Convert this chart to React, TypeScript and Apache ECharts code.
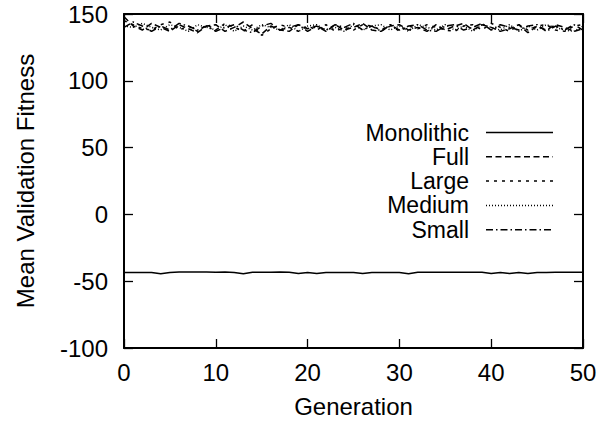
import React, { useEffect, useRef } from "react";
import * as echarts from "echarts";

const generations: number[] = Array.from({ length: 51 }, (_, i) => i);

const monolithic = [-43.5,-43.5,-43.5,-43.5,-44.5,-43.5,-43.2,-43.2,-43.2,-43.2,-43.3,-43.2,-43.5,-44.5,-43.3,-43.3,-43.3,-43.2,-43.3,-44.3,-43.5,-44.3,-43.5,-43.5,-43.5,-43.5,-44.2,-43.5,-43.5,-43.5,-43.5,-44.4,-43.3,-43.3,-43.3,-43.3,-43.3,-43.3,-43.3,-43.3,-44.3,-43.5,-44.3,-43.5,-44.3,-43.5,-43.5,-43.3,-43.3,-43.3,-43.3];
const full = [148,141,138,143,140,137,142,139,136,141,142,137,140,144,139,135,141,138,137,142,139,141,137,142,138,140,143,138,137,141,142,138,140,137,142,138,141,143,138,142,140,137,139,142,136,141,138,142,140,137,139];
const large = [145,142,139,138,142,144,138,141,137,142,138,143,140,137,142,134,139,142,140,137,141,138,142,137,140,138,142,141,138,142,137,141,139,142,140,138,137,141,142,138,143,140,137,142,138,141,142,138,137,141,142];
const medium = [141,140,143,140,138,142,140,137,142,140,138,142,137,141,138,142,140,138,142,137,141,142,138,140,137,142,138,141,142,138,141,137,142,140,138,142,138,141,137,142,140,138,142,137,141,138,142,140,138,137,141];
const small = [140,144,141,137,141,138,143,141,138,141,137,140,142,138,136,141,143,138,140,142,137,141,138,142,140,143,138,141,137,142,138,141,142,138,137,141,142,138,140,143,138,142,140,138,141,142,137,141,138,142,138];

const seriesNames = ["Monolithic", "Full", "Large", "Medium", "Small"];
const seriesValues = [monolithic, full, large, medium, small];
const dashes: (number[] | null)[] = [null, [6, 3.5], [3, 5], [1, 2], [7, 3, 1.5, 3]];

const FONT = "Liberation Sans, Arial, Helvetica, sans-serif";
const FS = 24;
const LFS = 23;

export default function App() {
  const ref = useRef<HTMLDivElement>(null);
  useEffect(() => {
    if (!ref.current) return;
    const chart = echarts.init(ref.current, undefined, { renderer: "svg" });
    const axisLine = { show: true, onZero: false, lineStyle: { color: "#000", width: 2 } };
    const tick = { show: true, inside: true, length: 9, lineStyle: { color: "#000", width: 1.3 } };
    const label = { color: "#000", fontSize: FS, fontFamily: FONT };
    const legendGraphics: any[] = [];
    const rowY = [132.5, 156.8, 181.1, 205.4, 229.7];
    seriesNames.forEach((n, i) => {
      legendGraphics.push({
        type: "text",
        x: 469,
        y: rowY[i],
        style: { text: n, fill: "#000", fontSize: LFS, fontFamily: FONT, textAlign: "right", textVerticalAlign: "middle" },
      });
      legendGraphics.push({
        type: "line",
        shape: { x1: 486, y1: rowY[i], x2: 553, y2: rowY[i] },
        style: { stroke: "#000", lineWidth: 1.5, lineDash: dashes[i] || undefined },
      });
    });
    chart.setOption({
      animation: false,
      backgroundColor: "#fff",
      grid: { left: 124, right: 30, top: 14, bottom: 75, show: false },
      xAxis: [
        {
          type: "value", min: 0, max: 50, interval: 10, position: "bottom",
          name: "Generation", nameLocation: "middle", nameGap: 46,
          nameTextStyle: { color: "#000", fontSize: FS, fontFamily: FONT },
          axisLine, axisTick: tick, axisLabel: { ...label, margin: 12 }, splitLine: { show: false },
        },
        {
          type: "value", min: 0, max: 50, interval: 10, position: "top",
          axisLine, axisTick: tick, axisLabel: { show: false }, splitLine: { show: false },
        },
      ],
      yAxis: [
        {
          type: "value", min: -100, max: 150, interval: 50, position: "left",
          name: "Mean Validation Fitness", nameLocation: "middle", nameGap: 87,
          nameTextStyle: { color: "#000", fontSize: FS, fontFamily: FONT },
          axisLine, axisTick: tick, axisLabel: { ...label, margin: 16 }, splitLine: { show: false },
        },
        {
          type: "value", min: -100, max: 150, interval: 50, position: "right",
          axisLine, axisTick: tick, axisLabel: { show: false }, splitLine: { show: false },
        },
      ],
      series: seriesNames.map((n, i) => ({
        name: n,
        type: "line",
        data: seriesValues[i].map((v, j) => [generations[j], v]),
        showSymbol: false,
        symbol: "none",
        lineStyle: { color: "#000", width: 1.5, type: dashes[i] || "solid" },
        z: 5 - i,
      })),
      graphic: legendGraphics,
    });
    return () => chart.dispose();
  }, []);
  return <div ref={ref} style={{ position: "fixed", left: 0, top: 0, width: 613, height: 423 }} />;
}
